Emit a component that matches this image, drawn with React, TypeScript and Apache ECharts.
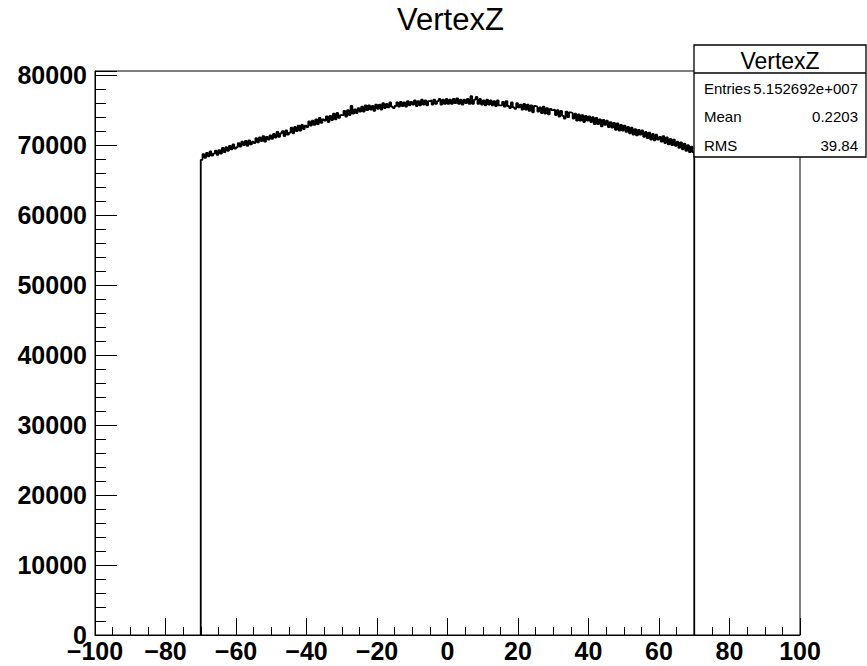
import React, { useEffect, useRef } from "react";
import * as echarts from "echarts";

const TITLE = "VertexZ";
const BIN_START = -70;
const BIN_WIDTH = 0.5;
// bin contents, 280 bins from -70 to 70
const COUNTS: number[] = [
  67900, 68700, 68200, 68900, 68400, 69100, 68500, 68800, 69200, 68600,
  69300, 68800, 69600, 69000, 69700, 69200, 69900, 69400, 70100, 69500,
  69700, 70300, 69800, 70500, 70000, 70600, 69900, 70700, 70100, 70500,
  70300, 71000, 70400, 71100, 70600, 71300, 70500, 71200, 70800, 71400,
  70900, 71600, 71100, 71900, 71200, 71700, 72000, 71300, 72100, 71500,
  71800, 72500, 71700, 72600, 72000, 72800, 72100, 72900, 72300, 72800,
  72600, 73400, 72800, 73500, 72900, 73700, 73000, 73900, 73200, 73700,
  73500, 74100, 73300, 74200, 73600, 74500, 73700, 74600, 73900, 74300,
  74300, 74900, 74100, 75000, 74300, 75600, 74500, 75100, 74600, 75300,
  74800, 75500, 74800, 75700, 75000, 75700, 75100, 75600, 74900, 75800,
  75200, 75800, 75100, 76000, 75300, 75900, 75400, 76100, 75500, 75300,
  75600, 76100, 75500, 76200, 75600, 76100, 75500, 76300, 75700, 76200,
  75800, 76400, 75600, 76300, 75700, 76500, 75800, 76400, 75700, 76300,
  76400, 75800, 76500, 75900, 76300, 76600, 75800, 76500, 75900, 76600,
  75900, 76500, 75900, 76600, 76000, 76700, 75900, 76500, 75800, 76500,
  76000, 76600, 75900, 77000, 75900, 76500, 76900, 75900, 76600, 75800,
  76400, 75700, 76500, 75800, 76400, 75700, 76300, 75600, 76400, 75700,
  75700, 76200, 75500, 76300, 75600, 75300, 76100, 75400, 75200, 76000,
  75400, 75800, 75100, 75900, 75100, 75800, 74900, 75700, 74700, 75600,
  75500, 74800, 75400, 74600, 75500, 74500, 75300, 74400, 75200, 75000,
  75100, 74300, 75000, 74100, 74900, 74200, 73800, 74800, 74000, 74700,
  74600, 73800, 74500, 73500, 74400, 73500, 74300, 73300, 74200, 73500,
  74100, 73300, 74000, 73000, 73900, 73000, 73700, 72700, 73600, 72900,
  73500, 72600, 73300, 72500, 73200, 72200, 73100, 72100, 72900, 72100,
  72800, 71900, 72600, 71700, 72500, 71500, 72300, 71400, 72200, 71500,
  72100, 71200, 71900, 71000, 71800, 70800, 71600, 70700, 71500, 70800,
  71200, 70500, 71300, 70300, 71100, 70100, 70900, 70000, 70800, 69900,
  70500, 69600, 70400, 69400, 70200, 69200, 70000, 69000, 69800, 69000,
];
const STATS_LABELS = ["Entries", "Mean", "RMS"];
const STATS_VALUES = ["5.152692e+007", "0.2203", "39.84"];
const X_MIN = -100;
const X_MAX = 100;
const Y_MAX = 80600;

const FONT = "'Liberation Sans', Arial, Helvetica, sans-serif";

export default function App() {
  const ref = useRef<HTMLDivElement>(null);
  useEffect(() => {
    if (!ref.current) return;
    const chart = echarts.init(ref.current, undefined, { renderer: "svg" });
    const data: number[][] = [[BIN_START, 0]];
    COUNTS.forEach((c, i) => data.push([BIN_START + i * BIN_WIDTH, c]));
    const end = BIN_START + COUNTS.length * BIN_WIDTH;
    data.push([end, COUNTS[COUNTS.length - 1]]);
    data.push([end, 0]);

    const boxL = 694, boxT = 45, boxR = 866, boxB = 157;
    const statRowsY = [88.5, 116.3, 145];
    const graphics: any[] = [
      {
        type: "rect",
        z: 100,
        shape: { x: boxL, y: boxT, width: boxR - boxL, height: boxB - boxT },
        style: { fill: "#fff", stroke: "#000", lineWidth: 1.3 },
      },
      {
        type: "line",
        z: 101,
        shape: { x1: boxL, y1: 73, x2: boxR, y2: 73 },
        style: { stroke: "#000", lineWidth: 1.3 },
      },
      {
        type: "text",
        z: 101,
        x: (boxL + boxR) / 2,
        y: 60.5,
        style: { text: TITLE, fontSize: 23, fontFamily: FONT, fill: "#000", align: "center", verticalAlign: "middle" },
      },
    ];
    STATS_LABELS.forEach((lab, i) => {
      graphics.push({
        type: "text",
        z: 101,
        x: 704,
        y: statRowsY[i],
        style: { text: lab, fontSize: 15, fontFamily: FONT, fill: "#000", align: "left", verticalAlign: "middle" },
      });
      graphics.push({
        type: "text",
        z: 101,
        x: 858,
        y: statRowsY[i],
        style: { text: STATS_VALUES[i], fontSize: 15, fontFamily: FONT, fill: "#000", align: "right", verticalAlign: "middle" },
      });
    });

    const labelStyle = { color: "#000", fontSize: 25, fontWeight: "bold" as const, fontFamily: FONT };

    chart.setOption({
      animation: false,
      backgroundColor: "#fff",
      title: {
        text: TITLE,
        left: 397,
        top: 4,
        padding: 0,
        textStyle: { fontSize: 31, fontWeight: "normal", fontFamily: FONT, color: "#000" },
      },
      grid: {
        left: 95,
        right: 67,
        top: 71,
        bottom: 31,
        show: true,
        borderColor: "#000",
        borderWidth: 1,
        backgroundColor: "transparent",
      },
      xAxis: {
        type: "value",
        min: X_MIN,
        max: X_MAX,
        interval: 20,
        splitLine: { show: false },
        axisLine: { show: true, onZero: false, lineStyle: { color: "#000", width: 1 } },
        axisTick: { show: true, inside: true, length: 17, lineStyle: { color: "#000", width: 1 } },
        minorTick: { show: true, splitNumber: 4, length: 8, lineStyle: { color: "#000", width: 1 } },
        axisLabel: {
          ...labelStyle,
          margin: 3,
          formatter: (v: number) => String(v).replace("-", "\u2212"),
        },
      },
      yAxis: [
        {
          type: "value",
          position: "left",
          min: 0,
          max: Y_MAX,
          interval: 2000,
          splitLine: { show: false },
          axisLine: { show: true, onZero: false, lineStyle: { color: "#000", width: 1 } },
          axisTick: { show: true, inside: true, length: 11, lineStyle: { color: "#000", width: 1 } },
          axisLabel: {
            ...labelStyle,
            margin: 8,
            formatter: (v: number) => (v % 10000 === 0 ? String(v) : ""),
          },
        },
        {
          type: "value",
          position: "left",
          offset: 0,
          min: 0,
          max: Y_MAX,
          interval: 10000,
          splitLine: { show: false },
          axisLine: { show: false, onZero: false },
          axisTick: { show: true, inside: true, length: 22, lineStyle: { color: "#000", width: 1 } },
          axisLabel: { show: false },
        },
      ],
      series: [
        {
          type: "line",
          step: "end",
          data,
          showSymbol: false,
          symbol: "none",
          lineStyle: { color: "#000", width: 1.8 },
          z: 5,
        },
      ],
      graphic: graphics,
    });
    return () => chart.dispose();
  }, []);
  return (
    <div
      ref={ref}
      style={{ position: "fixed", left: 0, top: 0, width: 867, height: 666 }}
    />
  );
}
